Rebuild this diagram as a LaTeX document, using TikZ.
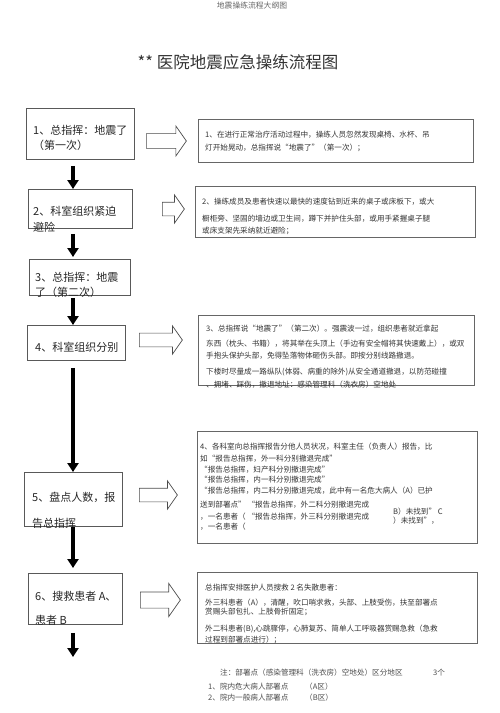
\documentclass[tikz,border=0pt]{standalone}
\usepackage{fontspec}
\newfontfamily\cjk{Noto Sans CJK SC}
\usetikzlibrary{positioning,shapes.arrows,arrows.meta}

\begin{document}
\begin{tikzpicture}[x=1pt,y=-1pt,
  lbox/.style={draw=black!65,line width=0.8pt,rectangle,inner sep=0pt,anchor=north west},
  rbox/.style={draw=black!60,line width=0.8pt,rectangle,inner sep=0pt,anchor=north west},
  ltext/.style={font=\cjk\fontsize{11}{15}\selectfont,align=left,inner sep=0pt,anchor=north west,text=black!85},
  rtext/.style={font=\cjk\fontsize{7.6}{11}\selectfont,align=left,inner sep=0pt,anchor=north west,text=black!80},
  fat/.style={draw=black!70,line width=0.7pt,single arrow,single arrow tip angle=110,single arrow head indent=0pt,inner xsep=0pt,inner ysep=6.5pt,text height=0pt,text depth=0pt,anchor=west},
  down/.style={line width=3.5pt,-{Triangle[width=11pt,length=9pt]}}
]
\useasboundingbox (0,0) rectangle (500,713);
\node[font=\cjk\fontsize{7.8}{9}\selectfont,text=black!60] (head) at (252,6) {地震操练流程大纲图};
\node[font=\cjk\fontsize{16.5}{18}\selectfont,text=black!80] (title) at (238,62) {** 医院地震应急操练流程图};

% left column
\node[lbox,minimum width=108,minimum height=51] (B1) at (26,108) {};
\node[ltext] (T1) at (33,125.5) {1、总指挥：地震了\\（第一次）};
\node[lbox,minimum width=104,minimum height=39] (B2) at (28,189) {};
\node[ltext] (T2) at (33,205.5) {2、科室组织紧迫\\[1pt]避险};
\node[lbox,minimum width=101,minimum height=36] (B3) at (29,259) {};
\node[ltext] (T3) at (35,272.5) {3、总指挥：地震\\了（第二次）};
\node[lbox,minimum width=98,minimum height=35] (B4) at (27,325) {};
\node[ltext] (T4) at (35,341.5) {4、科室组织分别};
\node[lbox,minimum width=98,minimum height=54] (B5) at (24,472) {};
\node[ltext] (T5) at (32,491.5) {5、盘点人数，报\\[11pt]告总指挥};
\node[lbox,minimum width=94,minimum height=51] (B6) at (28,573) {};
\node[ltext] (T6) at (35,591.5) {6、搜救患者 A、\\[9pt]患者 B};

\coordinate (spine) at (73,0);
\coordinate (end) at (73,657);
\draw[down,shorten <=6pt] (B1.south -| spine) -- (B2.north -| spine);
\draw[down,shorten <=5pt,shorten >=2pt] (B2.south -| spine) -- (B3.north -| spine);
\draw[down,shorten <=2pt] (B3.south -| spine) -- (B4.north -| spine);
\draw[down,shorten <=7pt] (B4.south -| spine) -- (B5.north -| spine);
\draw[down,shorten >=5pt] (B5.south -| spine) -- (B6.north -| spine);
\draw[down,shorten <=8pt] (B6.south -| spine) -- (end);

% hollow arrows
\node[fat,minimum height=40,minimum width=30] (H1) at (146,141) {};
\node[fat,minimum height=22,minimum width=27] (H2) at (162,209) {};
\node[fat,minimum height=43,minimum width=28] (H4) at (139,340) {};
\node[fat,minimum height=38,minimum width=25] (H5) at (139,495) {};
\node[fat,minimum height=40,minimum width=33] (H6) at (140,600) {};

% right column
\node[rbox,minimum width=275,minimum height=43] (R1) at (198,119) {};
\node[rtext] (S1) at (205,131.2) {1、在进行正常治疗活动过程中，操练人员忽然发现桌椅、水杯、吊\\[2pt]灯开始晃动，总指挥说“地震了”（第一次）；};
\node[rbox,minimum width=280,minimum height=51] (R2) at (195,186) {};
\node[rtext] (S2) at (202,198.2) {2、操练成员及患者快速以最快的速度钻到近来的桌子或床板下，或大\\[6pt]橱柜旁、坚固的墙边或卫生间，蹲下并护住头部，或用手紧握桌子腿\\[1pt]或床支架先采纳就近避险；};
\node[rbox,minimum width=276,minimum height=70] (R4) at (198,315) {};
\node[rtext] (S4) at (206,325.2) {3、总指挥说“地震了”（第二次）。强震波一过，组织患者就近拿起\\[4pt]东西（枕头、书籍），将其举在头顶上（手边有安全帽将其快速戴上），或双\\[1pt]手抱头保护头部，免得坠落物体砸伤头部。即按分别线路撤退。\\[5pt]下楼时尽量成一路纵队(体弱、病重的除外)从安全通道撤退，以防范碰撞\\[2pt]、拥堵、踩伤，撤退地址：感染管理科（洗衣房）空地处};
\node[rbox,minimum width=280,minimum height=112] (R5) at (197,431) {};
\node[rtext] (S5) at (200,443.2) {4、各科室向总指挥报告分他人员状况，科室主任（负责人）报告，比\\[1pt]如“报告总指挥，外一科分别撤退完成”\\ “报告总指挥，妇产科分别撤退完成”\\[-1pt] “报告总指挥，内一科分别撤退完成”\\ “报告总指挥，内二科分别撤退完成，此中有一名危大病人（A）已护\\[3pt]送到部署点” “报告总指挥，外二科分别撤退完成\\[1pt]，一名患者（ “报告总指挥，外三科分别撤退完成\\[-1pt]，一名患者（};
\node[rtext] (S5b) at (393,508) {B）未找到” C\\[-2pt]）未找到”，};
\node[rbox,minimum width=280,minimum height=71] (R6) at (197,572) {};
\node[rtext] (S6) at (205,584.2) {总指挥安排医护人员搜救 2 名失散患者：\\[4pt]外三科患者（A），清醒，吹口哨求救，头部、上肢受伤，扶至部署点\\[-2pt]赏赐头部包扎、上肢骨折固定；\\[6pt]外二科患者(B),心跳骤停，心肺复苏、简单人工呼吸器赏赐急救（急救\\过程到部署点进行）；};

% notes
\node[rtext,text=black!70] (N0) at (220,669.2) {注：部署点（感染管理科（洗衣房）空地处）区分地区};
\node[rtext,text=black!70] (N0b) at (433,669.2) {3个};
\node[rtext,text=black!70] (N1) at (208,683.2) {1、院内危大病人部署点};
\node[rtext,text=black!70] (N1b) at (305,683.2) {（A区）};
\node[rtext,text=black!70] (N2) at (208,694.2) {2、院内一般病人部署点};
\node[rtext,text=black!70] (N2b) at (305,694.2) {（B区）};
\end{tikzpicture}
\end{document}
